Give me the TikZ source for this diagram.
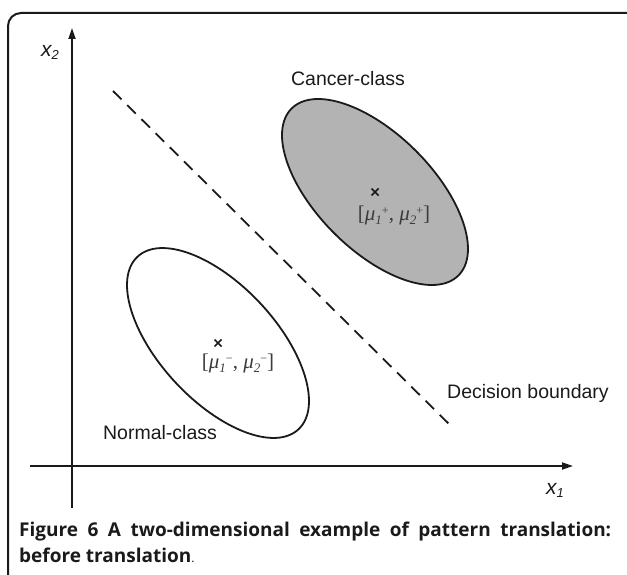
\documentclass[tikz,border=0pt]{standalone}
\usepackage{fontspec}
\setmainfont{Liberation Serif}
\setsansfont{Liberation Sans}
\newfontfamily\capfont{Open Sans}
\usetikzlibrary{arrows.meta}
\definecolor{ink}{HTML}{1A1A1A}
\definecolor{cancerfill}{HTML}{B3B3B3}
\newcommand{\axsub}[1]{\raisebox{-3pt}{\fontsize{13}{15}\selectfont #1}}
\newcommand{\meanlbl}[3]{\textit{μ}\raisebox{-4pt}{\fontsize{13}{15}\selectfont\textit{#1}}\raisebox{6pt}{\fontsize{12}{14}\selectfont #2}#3}
\tikzset{
  axisline/.style={line width=1.8pt, ink, -{Triangle[length=11pt,width=7pt]}},
  frameline/.style={line width=2pt, ink, rounded corners=13pt},
  classcurve/.style={line width=1.8pt, ink},
  boundary/.style={line width=1.8pt, ink, dash pattern=on 12pt off 8pt},
  sanslabel/.style={font=\sffamily\fontsize{19.5}{23}\selectfont, text=ink, inner sep=0pt},
  axislabel/.style={font=\sffamily\itshape\fontsize{21}{25}\selectfont, text=ink, inner sep=0pt},
  meanlabel/.style={font=\rmfamily\fontsize{21}{25}\selectfont, text=ink!85, inner sep=0pt},
  meanmark/.style={line width=1.6pt, ink},
}
\begin{document}
\begin{tikzpicture}[x=1pt,y=-1pt]
\useasboundingbox (0,0) rectangle (627,575);
% frame
\draw[frameline] (8,576) -- (8,13) -- (628,13);
% axes
\coordinate (yb) at (72,508);
\coordinate (yt) at (72,28);
\coordinate (xl) at (30,466);
\coordinate (xr) at (573,466);
\draw[axisline] (yb) -- (yt);
\draw[axisline] (xl) -- (xr);
\node[axislabel] (lx2) at (50,52) {x\axsub{2}};
\node[axislabel] (lx1) at (555,490) {x\axsub{1}};
% decision boundary
\coordinate (d1) at (113,91);
\coordinate (d2) at (449,424);
\draw[boundary] (d1) -- (d2);
% cancer class
\coordinate (cc) at (375,192);
\draw[classcurve, fill=cancerfill, shift={(cc)}, rotate=-45] (0,0) ellipse [x radius=118, y radius=58];
\draw[meanmark] ([shift={(-3.5,-3.5)}]cc) -- ([shift={(3.5,3.5)}]cc);
\draw[meanmark] ([shift={(-3.5,3.5)}]cc) -- ([shift={(3.5,-3.5)}]cc);
\node[meanlabel] (mc) at (394,215) {[\meanlbl{1}{+}{,} \meanlbl{2}{+}{}]};
% normal class
\coordinate (nc) at (218,343);
\draw[classcurve, shift={(nc)}, rotate=-47] (0,0) ellipse [x radius=118, y radius=58];
\draw[meanmark] ([shift={(-3.5,-3.5)}]nc) -- ([shift={(3.5,3.5)}]nc);
\draw[meanmark] ([shift={(-3.5,3.5)}]nc) -- ([shift={(3.5,-3.5)}]nc);
\node[meanlabel] (mn) at (238,363) {[\meanlbl{1}{−}{,} \meanlbl{2}{−}{}]};
% labels
\node[sanslabel] (lcancer) at (348,79) {Cancer-class};
\node[sanslabel] (ldecision) at (528,393) {Decision boundary};
\node[sanslabel] (lnormal) at (160,433) {Normal-class};
% caption
\node[anchor=north west, inner sep=0pt, text width=592pt, align=justify,
      font=\capfont\fontsize{19}{25.5}\selectfont, text=ink] (cap) at (19,522)
  {\bfseries Figure 6 A two-dimensional example of pattern translation:\linebreak before translation{\mdseries\fontsize{12}{14}\selectfont .}};
\end{tikzpicture}
\end{document}
